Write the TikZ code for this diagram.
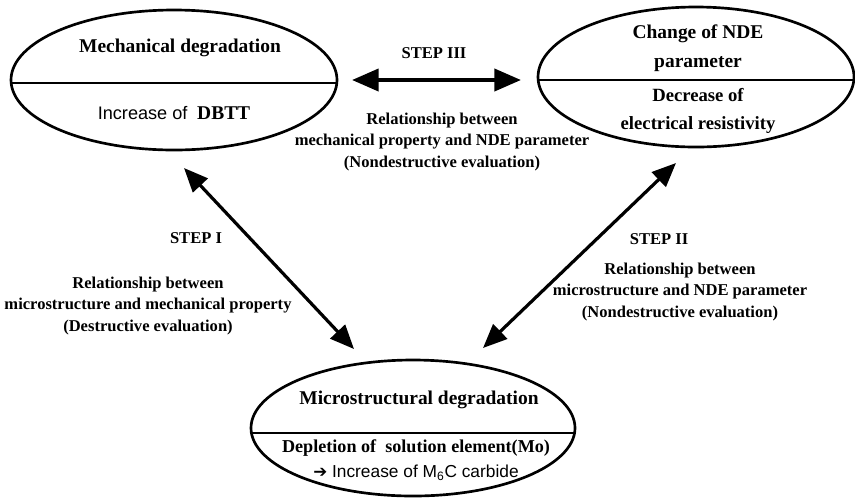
\documentclass[tikz,border=0pt]{standalone}
\usepackage{fontspec}
\setmainfont{Liberation Serif}
\newfontfamily\sansfont{Liberation Sans}
\newfontfamily\symfont{DejaVu Sans}
\usetikzlibrary{arrows.meta, shapes.geometric}

\begin{document}
\begin{tikzpicture}[x=0.75pt, y=-0.75pt, line join=round,
    stage/.style={draw, ellipse, line width=2pt, inner sep=0pt},
    split/.style={line width=1.2pt},
    head/.style={font=\fontsize{14.6}{22}\selectfont\bfseries, align=center},
    note/.style={font=\fontsize{12.4}{15.8}\selectfont\bfseries, align=center},
    link/.style={{Triangle[length=18pt,width=15pt]}-{Triangle[length=18pt,width=15pt]}, line width=2.4pt}]

  \useasboundingbox (0,0) rectangle (855,497);

  \node[stage, minimum width=244.5pt, minimum height=105pt] (mech) at (174,80) {};
  \node[stage, minimum width=237pt, minimum height=105pt] (nde) at (696,77) {};
  \node[stage, minimum width=243pt, minimum height=102pt] (micro) at (413,428) {};
  \draw[split] ([yshift=-2.25pt]mech.west) -- ([yshift=-2.25pt]mech.east);
  \draw[split] ([yshift=-2.25pt]nde.west) -- ([yshift=-2.25pt]nde.east);
  \draw[split] ([yshift=-3.75pt]micro.west) -- ([yshift=-3.75pt]micro.east);

  \node[head] (mechtop) at (180,48) {Mechanical degradation};
  \node[head] (mechbot) at (174,113) {{\sansfont\mdseries\fontsize{13.6}{16}\selectfont Increase of}\ \ DBTT};
  \node[head] (ndetop) at (698,48) {Change of NDE\\parameter};
  \node[head, font=\fontsize{14}{21}\selectfont\bfseries] (ndebot) at (698,111) {Decrease of\\electrical resistivity};
  \node[head] (microtop) at (419,400) {Microstructural degradation};
  \node[head, font=\fontsize{13.6}{18.8}\selectfont\bfseries] (microbot) at (416,460)
    {Depletion of\ \ solution element(Mo)\\{\sansfont\mdseries\fontsize{13}{16}\selectfont{\symfont\fontsize{12.5}{16}\selectfont ➔} Increase of M\textsubscript{6}C carbide}};

  \node[note] (step3) at (434,53) {STEP III};
  \node[note] (rel3) at (442,142) {Relationship between\\mechanical property and NDE parameter\\(Nondestructive evaluation)};
  \node[note] (step1) at (196,238) {STEP I};
  \node[note] (rel1) at (148,306) {Relationship between\\microstructure and mechanical property\\(Destructive evaluation)};
  \node[note] (step2) at (659,239) {STEP II};
  \node[note] (rel2) at (680,292) {Relationship between\\microstructure and NDE parameter\\(Nondestructive evaluation)};

  \coordinate (iiia) at (352,80);
  \coordinate (iiib) at (521,80);
  \coordinate (ia) at (184,168);
  \coordinate (ib) at (354,349);
  \coordinate (iia) at (676,163);
  \coordinate (iib) at (483,348);
  \draw[link, line width=3pt, {Triangle[length=20pt,width=16.5pt]}-{Triangle[length=20pt,width=16.5pt]}] (iiia) -- (iiib);
  \draw[link] (ia) -- (ib);
  \draw[link] (iia) -- (iib);
\end{tikzpicture}
\end{document}
